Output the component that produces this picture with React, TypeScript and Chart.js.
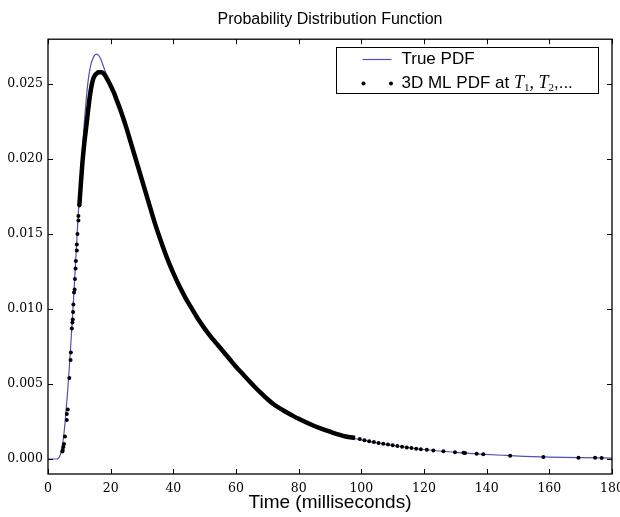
import React, { useEffect, useRef } from "react";
import { Chart, registerables } from "chart.js";

Chart.register(...registerables);

const TITLE = "Probability Distribution Function";
const X_LABEL = "Time (milliseconds)";
const LEGEND_TRUE = "True PDF";
const LEGEND_ML = "3D ML PDF at ";

const X_TICKS = [0, 20, 40, 60, 80, 100, 120, 140, 160, 180];
const Y_TICKS = [0, 0.005, 0.01, 0.015, 0.02, 0.025];
const X_MIN = 0;
const X_MAX = 180;
const Y_MIN = -0.001;
const Y_MAX = 0.028;

// True PDF (blue line)
const TRUE_T = [
  0, 2.8, 3.3, 3.8, 4.3, 4.8, 5.3, 5.8, 6.3, 6.8,
  7.3, 7.8, 8.3, 8.8, 9.3, 9.8, 10.3, 10.8, 11.3, 11.8,
  12.3, 12.8, 13.3, 13.8, 14.3, 14.8, 15.5, 16.2, 16.8, 17.5,
  18.2, 19, 20, 21, 22, 23, 24, 25, 26, 28,
  30, 32, 34, 36, 38, 40, 42, 44, 46, 48,
  50, 52, 54, 56, 58, 60, 62, 64, 66, 68,
  70, 72, 75, 78, 80, 85, 90, 95, 100, 105,
  110, 117, 124, 131, 138, 145, 152, 160, 170, 180,
];
const TRUE_PDF = [
  0, 0, 0.00005, 0.0002, 0.0006, 0.0012, 0.0021, 0.0033, 0.0046, 0.0061,
  0.0077, 0.0094, 0.0112, 0.0131, 0.015, 0.0168, 0.0185, 0.0201, 0.0216, 0.023,
  0.0242, 0.0252, 0.0259, 0.0264, 0.0267, 0.0269, 0.027, 0.0269, 0.0267, 0.0263,
  0.0259, 0.0254, 0.0249, 0.02445, 0.0239, 0.02335, 0.02275, 0.0221, 0.0214, 0.02,
  0.0186, 0.0172, 0.0158, 0.01455, 0.0134, 0.0124, 0.0115, 0.0107, 0.01, 0.0093,
  0.0087, 0.00815, 0.00765, 0.00715, 0.00665, 0.00615, 0.0057, 0.00525, 0.0048, 0.0044,
  0.004, 0.00365, 0.00325, 0.0029, 0.00268, 0.0022, 0.00182, 0.0015, 0.00128, 0.00108,
  0.00091, 0.0007, 0.00055, 0.00043, 0.00033, 0.00025, 0.00018, 0.00013, 0.00009, 0.00006,
];

// 3D ML PDF: dense part of the estimates (merged into a thick band)
const BAND_T = [
  10.0, 10.5, 11.0, 11.5, 12.0, 12.5, 13.0, 13.5, 14.0, 14.5,
  15.0, 15.5, 16.0, 16.6, 17.2, 18, 19, 20, 21, 22,
  23, 24, 25, 26, 28, 30, 32, 34, 36, 38,
  40, 42, 44, 46, 48, 50, 52, 54, 56, 58,
  60, 62, 64, 66, 68, 70, 72, 75, 78, 80,
  85, 90, 95, 98,
];
const BAND_PDF = [
  0.0169, 0.0184, 0.0198, 0.0209, 0.0218, 0.0227, 0.0236, 0.0244, 0.025, 0.0254,
  0.0256, 0.0257, 0.0258, 0.0258, 0.0258, 0.02565, 0.0253, 0.0249, 0.02445, 0.0239,
  0.02335, 0.02275, 0.0221, 0.0214, 0.02, 0.0186, 0.0172, 0.0158, 0.01455, 0.0134,
  0.0124, 0.0115, 0.0107, 0.01, 0.0093, 0.0087, 0.00815, 0.00765, 0.00715, 0.00665,
  0.00615, 0.0057, 0.00525, 0.0048, 0.0044, 0.004, 0.00365, 0.00325, 0.0029, 0.00268,
  0.0022, 0.00182, 0.0015, 0.0014,
];

// 3D ML PDF: sparse individual estimates
const DOT_T = [
  4.6, 4.7, 4.9, 5.1, 5.4, 6.0, 6.0, 6.3, 6.8, 7.2,
  7.3, 7.6, 7.8, 7.9, 8.0, 8.1, 8.3, 8.5, 8.6, 8.8,
  8.9, 9.2, 9.2, 9.4, 9.7, 9.7, 10.0,
  99.5, 101, 102.5, 104, 105.5, 107, 108.5, 110, 111.5,
  113, 114.5, 116, 117.5, 119, 120.9, 123, 126.2, 129.9, 132.6,
  133.1, 136.8, 138.9, 147.5, 158.1, 169.3, 174.6, 176.7,
];
const DOT_PDF = [
  0.0005, 0.0006, 0.0008, 0.001, 0.0015, 0.0026, 0.003, 0.0033, 0.0054, 0.0066,
  0.0071, 0.0087, 0.0091, 0.0093, 0.0098, 0.0103, 0.0111, 0.0113, 0.012, 0.0127,
  0.0132, 0.0139, 0.0143, 0.015, 0.0159, 0.0162, 0.0169,
  0.00133, 0.00125, 0.00119, 0.00113, 0.00107, 0.00101, 0.00096, 0.00091, 0.00086,
  0.00081, 0.00077, 0.00073, 0.00069, 0.00065, 0.00061, 0.00057, 0.00051, 0.00045, 0.00041,
  0.0004, 0.00035, 0.00032, 0.00022, 0.00014, 0.00009, 0.00008, 0.00007,
];

const BLUE = "#5050b4";
const SANS = '"Liberation Sans", Arial, sans-serif';
const SERIF = '"DejaVu Serif", serif';

const zip = (xs: number[], ys: number[]) => xs.map((x, i) => ({ x, y: ys[i] }));

const framePlugin = {
  id: "mplFrame",
  afterDraw(chart: any) {
    const { ctx, chartArea: a, scales } = chart;
    const xs = scales.x;
    const ys = scales.y;
    ctx.save();
    ctx.strokeStyle = "#000";
    ctx.lineWidth = 1;
    ctx.beginPath();
    X_TICKS.forEach((v) => {
      const px = Math.round(xs.getPixelForValue(v)) + 0.5;
      ctx.moveTo(px, a.bottom);
      ctx.lineTo(px, a.bottom - 5);
      ctx.moveTo(px, a.top);
      ctx.lineTo(px, a.top + 5);
    });
    Y_TICKS.forEach((v) => {
      const py = Math.round(ys.getPixelForValue(v)) + 0.5;
      ctx.moveTo(a.left, py);
      ctx.lineTo(a.left + 5, py);
      ctx.moveTo(a.right, py);
      ctx.lineTo(a.right - 5, py);
    });
    ctx.stroke();
    ctx.lineWidth = 1.3;
    ctx.strokeRect(a.left, a.top, a.right - a.left, a.bottom - a.top);

    // legend
    const bw = 262;
    const bh = 46;
    const bx = Math.round(a.right - 14 - bw) + 0.5;
    const by = Math.round(a.top + 8) + 0.5;
    ctx.fillStyle = "#fff";
    ctx.fillRect(bx, by, bw, bh);
    ctx.lineWidth = 1;
    ctx.strokeStyle = "#000";
    ctx.strokeRect(bx, by, bw, bh);
    const y1 = by + 12;
    const y2 = by + 36;
    ctx.strokeStyle = BLUE;
    ctx.lineWidth = 1.2;
    ctx.beginPath();
    ctx.moveTo(bx + 26, y1);
    ctx.lineTo(bx + 55, y1);
    ctx.stroke();
    ctx.fillStyle = "#000";
    [bx + 27, bx + 54.5].forEach((cx) => {
      ctx.beginPath();
      ctx.arc(cx, y2, 2, 0, Math.PI * 2);
      ctx.fill();
    });
    ctx.textBaseline = "middle";
    ctx.textAlign = "left";
    ctx.font = `17px ${SANS}`;
    const tx = bx + 65;
    ctx.fillText(LEGEND_TRUE, tx, y1);
    let cx = tx;
    ctx.fillText(LEGEND_ML, cx, y2);
    cx += ctx.measureText(LEGEND_ML).width;
    const ital = 'italic 18px "Liberation Serif", serif';
    const sub = '11px "Liberation Serif", serif';
    const parts: [string, string, number][] = [
      [ital, "T", 0],
      [sub, "1", 5],
      [ital, ", ", 0],
      [ital, "T", 0],
      [sub, "2", 5],
      [`17px ${SANS}`, ",...", 0],
    ];
    parts.forEach(([f, s, dy]) => {
      ctx.font = f;
      ctx.fillText(s, cx, y2 + dy);
      cx += ctx.measureText(s).width;
    });
    ctx.restore();
  },
};

export default function App() {
  const ref = useRef<HTMLCanvasElement>(null);
  useEffect(() => {
    const canvas = ref.current;
    if (!canvas) return;
    const chart = new Chart(canvas, {
      type: "line",
      data: {
        datasets: [
          {
            label: "3D ML PDF at T1, T2,...",
            data: zip(DOT_T, DOT_PDF),
            showLine: false,
            pointRadius: 2,
            pointHoverRadius: 2,
            pointBorderWidth: 0,
            pointBackgroundColor: "#000",
            borderColor: "#000",
            order: 0,
          },
          {
            label: "3D ML PDF band",
            data: zip(BAND_T, BAND_PDF),
            borderColor: "#000",
            borderWidth: 4.5,
            pointRadius: 0,
            cubicInterpolationMode: "monotone",
            fill: false,
            order: 1,
          },
          {
            label: "True PDF",
            data: zip(TRUE_T, TRUE_PDF),
            borderColor: BLUE,
            borderWidth: 1.2,
            pointRadius: 0,
            cubicInterpolationMode: "monotone",
            fill: false,
            order: 2,
          },
        ],
      },
      options: {
        responsive: false,
        animation: false,
        events: [],
        layout: { padding: { left: 0, right: 8, top: 0, bottom: 0 } },
        plugins: {
          legend: { display: false },
          tooltip: { enabled: false },
          title: {
            display: true,
            text: TITLE,
            fullSize: false,
            color: "#000",
            font: { family: SANS, size: 16, weight: "normal" },
            padding: { top: 10, bottom: 10 },
          },
        },
        scales: {
          x: {
            type: "linear",
            min: X_MIN,
            max: X_MAX,
            grid: { display: false, drawTicks: false },
            border: { display: false },
            afterBuildTicks: (s: any) => {
              s.ticks = X_TICKS.map((v) => ({ value: v }));
            },
            afterFit: (s: any) => {
              s.height = 43;
              s.paddingLeft = 0;
              s.paddingRight = 0;
            },
            ticks: {
              color: "#000",
              font: { family: SERIF, size: 12.5 },
              padding: 7,
              maxRotation: 0,
              autoSkip: false,
              callback: (v: any) => String(v),
            },
            title: {
              display: true,
              text: X_LABEL,
              color: "#000",
              font: { family: SANS, size: 19 },
              padding: { top: 0, bottom: 3 },
            },
          },
          y: {
            type: "linear",
            min: Y_MIN,
            max: Y_MAX,
            grid: { display: false, drawTicks: false },
            border: { display: false },
            afterBuildTicks: (s: any) => {
              s.ticks = Y_TICKS.map((v) => ({ value: v }));
            },
            afterFit: (s: any) => {
              s.width = 48;
              s.paddingTop = 0;
              s.paddingBottom = 0;
            },
            ticks: {
              color: "#000",
              font: { family: SERIF, size: 12.5 },
              padding: 5,
              callback: (v: any) => Number(v).toFixed(3),
            },
          },
        },
      },
      plugins: [framePlugin],
    } as any);
    return () => chart.destroy();
  }, []);
  return (
    <div
      style={{
        position: "absolute",
        left: 0,
        top: 0,
        width: 620,
        height: 517,
        background: "#fff",
      }}
    >
      <canvas ref={ref} width={620} height={517} style={{ display: "block" }} />
    </div>
  );
}
